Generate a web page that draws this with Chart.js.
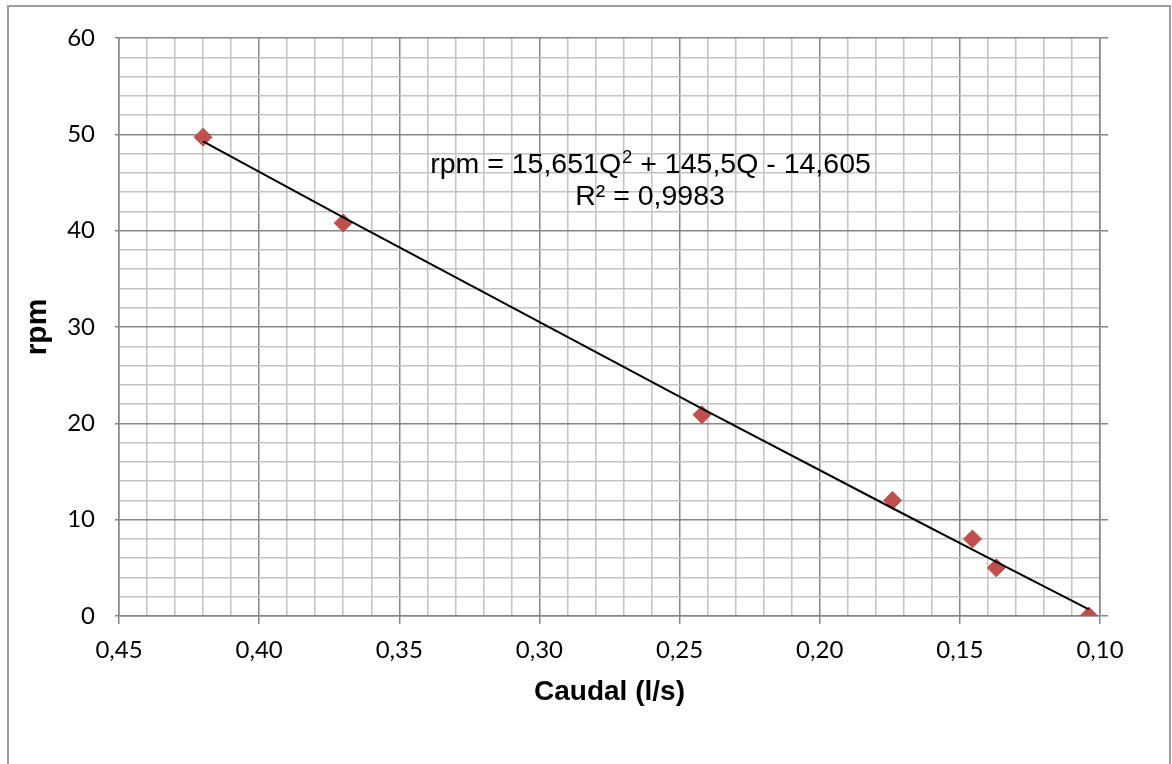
<!DOCTYPE html>
<html>
<head>
<meta charset="utf-8">
<script src="https://cdn.jsdelivr.net/npm/chart.js@4.4.1/dist/chart.umd.min.js"></script>
<style>
  body { margin: 0; background: #fff; overflow: hidden; }
  #frame { position: absolute; left: 7px; top: 5px; width: 1160px; height: 800px; border: 2px solid #9c9c9c; }
  #wrap { position: absolute; left: 0; top: 0; width: 1172px; height: 764px; }
</style>
</head>
<body>
<div id="frame"></div>
<div id="wrap"><canvas id="curva" width="1172" height="764"></canvas></div>
<script>
// measured points: flow (l/s) vs rpm
let caudal = [0.42, 0.37, 0.242, 0.174, 0.1455, 0.137, 0.104]
let rpm = [49.7, 40.8, 20.9, 12.0, 8.0, 5.0, 0]

// quadratic fit rpm = a*Q^2 + b*Q + c, as written on the chart
let coef = [15.651, 145.5, -14.605]
let r2 = "0,9983"

let majorGrid = "#878787"
let minorGrid = "#c3c3c3"
let markerColor = "#c0504d"

let puntos = caudal.map((q, i) => ({x: q, y: rpm[i]}))
let ajuste = caudal.slice().sort((a, b) => a - b).map(q => ({x: q, y: coef[0]*q*q + coef[1]*q + coef[2]}))

function comma(v, d){
  return v.toFixed(d).replace(".", ",")
}

function isMajorX(v){ return Math.round(v*100) % 5 === 0 }
function isMajorY(v){ return Math.round(v) % 10 === 0 }

// equation + R² text over the plot
let equationLabel = {
  id: "equationLabel",
  afterDatasetsDraw(chart){
    let ctx = chart.ctx
    let cx = 650
    let big = '28.5px "Liberation Sans", Arial, sans-serif'
    let small = '18.5px "Liberation Sans", Arial, sans-serif'
    let p1 = "rpm = " + comma(coef[0], 3) + "Q"
    let p2 = "2"
    let p3 = " + " + comma(coef[1], 1) + "Q - " + comma(-coef[2], 3)
    ctx.save()
    ctx.fillStyle = "#000"
    ctx.textBaseline = "alphabetic"
    ctx.textAlign = "left"
    ctx.font = big
    let w1 = ctx.measureText(p1).width
    let w3 = ctx.measureText(p3).width
    ctx.font = small
    let w2 = ctx.measureText(p2).width
    let x = cx - (w1 + w2 + w3) / 2
    let y = 173
    ctx.font = big
    ctx.fillText(p1, x, y)
    ctx.font = small
    ctx.fillText(p2, x + w1 + 1, y - 10)
    ctx.font = big
    ctx.fillText(p3, x + w1 + w2 + 1, y)
    ctx.textAlign = "center"
    ctx.fillText("R² = " + r2, cx, 205)
    ctx.restore()
  }
}

window.onload = () => {
  new Chart("curva", {
    type: "scatter",
    data: {
      datasets: [{
        data: ajuste,
        showLine: true,
        borderColor: "#000",
        borderWidth: 2,
        pointRadius: 0,
        order: 0
      }, {
        data: puntos,
        backgroundColor: markerColor,
        borderColor: markerColor,
        borderWidth: 1,
        pointStyle: "rectRot",
        pointRadius: 9,
        order: 1
      }]
    },
    plugins: [equationLabel],
    options: {
      responsive: false,
      animation: false,
      devicePixelRatio: 1,
      layout: { padding: { left: 0, right: 0, top: 38, bottom: 0 } },
      plugins: { legend: { display: false }, tooltip: { enabled: false } },
      scales: {
        x: {
          type: "linear",
          reverse: true,
          min: 0.10,
          max: 0.45,
          afterFit: (s) => { s.height = 148 },
          ticks: {
            stepSize: 0.01,
            autoSkip: false,
            maxRotation: 0,
            padding: 12,
            color: "#000",
            font: { family: "Lato", size: 24 },
            callback: (v) => isMajorX(v) ? comma(v, 2) : ""
          },
          grid: {
            color: (c) => isMajorX(c.tick.value) ? majorGrid : minorGrid,
            tickColor: (c) => isMajorX(c.tick.value) ? majorGrid : "rgba(0,0,0,0)",
            tickLength: 8,
            lineWidth: 1.5
          },
          border: { color: majorGrid, width: 1.5 },
          title: {
            display: true,
            text: "Caudal (l/s)",
            color: "#000",
            font: { family: "Liberation Sans", size: 28, weight: "bold" },
            padding: { top: 0, bottom: 55 }
          }
        },
        y: {
          min: 0,
          max: 60,
          afterFit: (s) => { s.width = 119 },
          ticks: {
            stepSize: 2,
            autoSkip: false,
            padding: 20,
            color: "#000",
            font: { family: "Lato", size: 24 },
            callback: (v) => isMajorY(v) ? String(v) : ""
          },
          grid: {
            color: (c) => isMajorY(c.tick.value) ? majorGrid : minorGrid,
            tickColor: (c) => isMajorY(c.tick.value) ? majorGrid : "rgba(0,0,0,0)",
            tickLength: 4,
            lineWidth: 1.5
          },
          border: { color: majorGrid, width: 1.5 },
          title: {
            display: true,
            text: "rpm",
            color: "#000",
            font: { family: "Liberation Sans", size: 30, weight: "bold" },
            padding: { top: 20, bottom: 0 }
          }
        },
        y2: {
          position: "right",
          min: 0,
          max: 60,
          afterFit: (s) => { s.width = 72 },
          ticks: { stepSize: 10, display: false },
          grid: { drawOnChartArea: false, tickLength: 8, color: majorGrid, lineWidth: 1.5 },
          border: { color: majorGrid, width: 1.5 }
        }
      }
    }
  })
}
</script>
</body>
</html>
